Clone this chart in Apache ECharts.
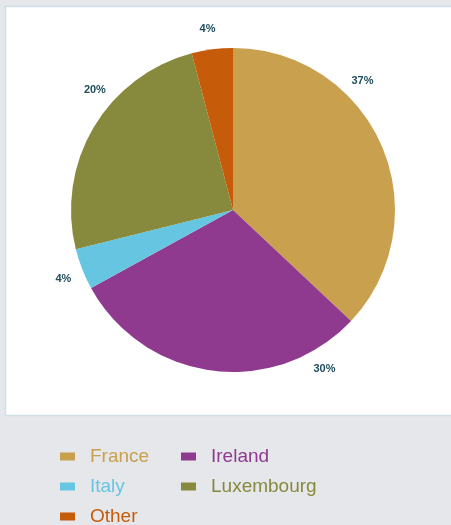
<!DOCTYPE html>
<html>
<head>
<meta charset="utf-8">
<script src="https://cdn.jsdelivr.net/npm/echarts@6/dist/echarts.min.js"></script>
<style>
  html, body { margin: 0; padding: 0; background: #e5e7ea; }
  #container { width: 451px; height: 525px; }
</style>
</head>
<body>
<div id="container"></div>
<script>
// chart data
var countries = ['France', 'Ireland', 'Italy', 'Luxembourg', 'Other'];
var shares = [37, 30, 4.1, 24.8, 4.1];
var shareLabels = ['37%', '30%', '4%', '20%', '4%'];
var colors = ['#c9a04e', '#8f3a8f', '#66c6e2', '#878a3d', '#c65b0a'];

initChart(echarts);

function initChart(echarts) {
    var cx = 233, cy = 210;
    // where the percent labels sit (degrees clockwise from 12 o'clock)
    var labelAngles = [45, 150, 248, 311, 352];
    var labelDist = 183;

    var data = [];
    for (var i = 0; i < countries.length; i++) {
        data.push({
            name: countries[i],
            value: shares[i],
            itemStyle: {color: colors[i]}
        });
    }

    var legendData = [];
    for (var j = 0; j < countries.length; j++) {
        legendData.push({name: countries[j], textStyle: {color: colors[j]}});
    }

    var myChart = echarts.init(document.getElementById('container'));
    var option = {
        backgroundColor: '#e5e7ea',
        animation: false,
        graphic: [
            {
                type: 'rect',
                silent: true,
                z: -10,
                shape: {x: 5.5, y: 6.5, width: 470, height: 409},
                style: {fill: '#ffffff', stroke: '#cfdfe5', lineWidth: 1.5}
            }
        ],
        legend: {
            data: legendData,
            orient: 'horizontal',
            left: 60,
            top: 447,
            width: 300,
            padding: 0,
            itemWidth: 15,
            itemHeight: 8,
            itemGap: 11,
            icon: 'rect',
            selectedMode: false,
            textStyle: {
                fontFamily: 'Liberation Sans',
                fontSize: 19,
                lineHeight: 19,
                width: 80,
                overflow: 'none',
                padding: [0, 0, 0, 10]
            }
        },
        series: [
            {
                type: 'pie',
                center: [cx, cy],
                radius: 162,
                startAngle: 90,
                clockwise: true,
                data: data,
                itemStyle: {borderWidth: 0},
                emphasis: {disabled: true},
                labelLine: {show: false},
                label: {
                    show: true,
                    position: 'outside',
                    overflow: 'none',
                    formatter: function (p) {
                        return shareLabels[p.dataIndex];
                    },
                    color: '#1e4d5d',
                    fontFamily: 'Liberation Sans',
                    fontWeight: 'bold',
                    fontSize: 11
                },
                labelLayout: function (p) {
                    var a = labelAngles[p.dataIndex] * Math.PI / 180;
                    return {
                        x: cx + labelDist * Math.sin(a),
                        y: cy - labelDist * Math.cos(a),
                        align: 'center',
                        verticalAlign: 'middle'
                    };
                }
            }
        ]
    };

    myChart.setOption(option);
}
</script>
</body>
</html>
